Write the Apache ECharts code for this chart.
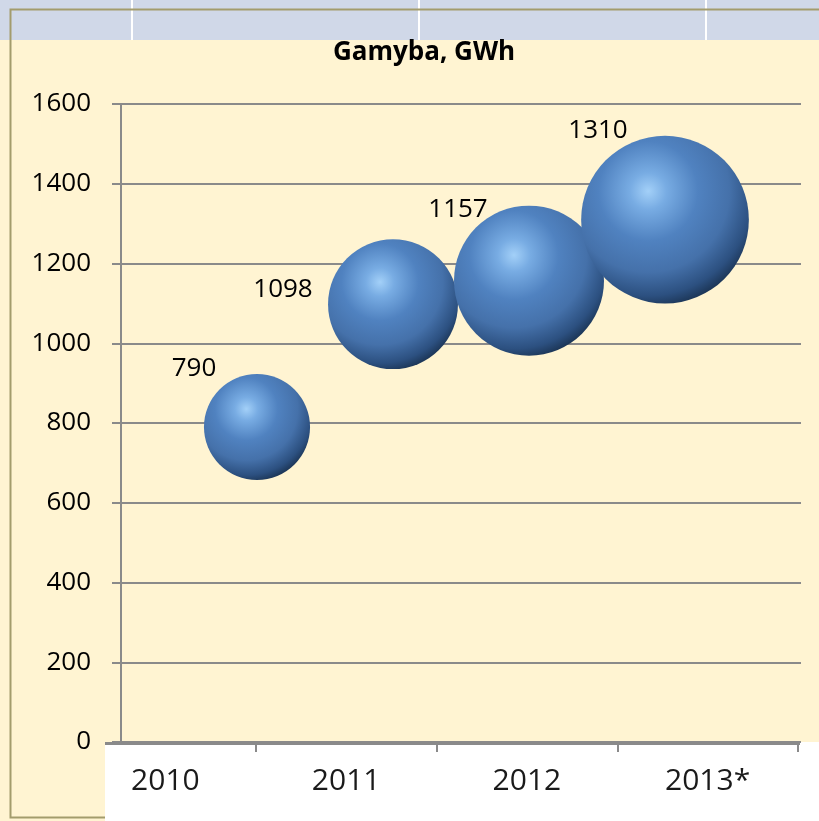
<!DOCTYPE html>
<html>
<head>
<meta charset="utf-8">
<script src="https://cdn.jsdelivr.net/npm/echarts@6/dist/echarts.min.js"></script>
<style>
  html, body { margin: 0; padding: 0; background: #fff4d2; }
  #main { width: 819px; height: 821px; }
</style>
</head>
<body>
<div id="main"></div>
<script>
var years = ['2010', '2011', '2012', '2013*'];
var xPos = [1, 2, 3, 4];                 // bubble x value
var production = [790, 1098, 1157, 1310]; // GWh
var bubbleSize = [2, 3, 4, 5];           // bubble size values
var yTicks = [0, 200, 400, 600, 800, 1000, 1200, 1400, 1600];

// label offsets relative to bubble centre (placed by hand in the original)
var labelOffsets = [[-63, -58], [-110, -15], [-71, -71], [-67, -89]];

var myChart = echarts.init(document.getElementById('main'));

var sphere = new echarts.graphic.RadialGradient(0.4, 0.33, 0.78, [
  { offset: 0, color: '#a3d0f8' },
  { offset: 0.14, color: '#78ace3' },
  { offset: 0.38, color: '#5082c0' },
  { offset: 0.62, color: '#4571aa' },
  { offset: 0.8, color: '#2c5080' },
  { offset: 1, color: '#0a1828' }
]);

var seriesData = [];
for (var i = 0; i < production.length; i++) {
  seriesData.push({
    value: [xPos[i], production[i], bubbleSize[i]],
    label: { offset: labelOffsets[i] }
  });
}

// year label sits in the middle of each band of the bottom axis
var yearTicks = [], yearMids = [];
for (var k = 0; k < years.length; k++) {
  yearTicks.push(k + 1);
  yearMids.push(k + 0.5);
}

var option = {
  animation: false,
  backgroundColor: '#fff4d2',
  title: {
    text: 'Gamyba, GWh',
    left: 419,
    top: 35,
    textAlign: 'center',
    textStyle: { fontFamily: 'Open Sans', fontWeight: 'bold', fontSize: 26, color: '#000' }
  },
  graphic: [
    // header band
    { type: 'rect', z: -10, shape: { x: 0, y: 0, width: 819, height: 40 }, style: { fill: '#d0d8e8' } },
    { type: 'rect', z: -9, shape: { x: 131, y: 0, width: 2, height: 40 }, style: { fill: '#ffffff' } },
    { type: 'rect', z: -9, shape: { x: 418, y: 0, width: 2, height: 40 }, style: { fill: '#ffffff' } },
    { type: 'rect', z: -9, shape: { x: 705, y: 0, width: 2, height: 40 }, style: { fill: '#ffffff' } },
    // frame
    { type: 'polyline', z: -8, shape: { points: [[819, 9.5], [10.5, 9.5], [10.5, 817.5], [105, 817.5]] },
      style: { stroke: '#a39c6c', lineWidth: 2, fill: null } },
    // white strip under the axis
    { type: 'rect', z: -7, shape: { x: 105, y: 742, width: 714, height: 79 }, style: { fill: '#ffffff' } },
    // x axis line
    { type: 'line', z: 10, shape: { x1: 105, y1: 743.5, x2: 800, y2: 743.5 }, style: { stroke: '#8a8a8a', lineWidth: 3 } }
  ],
  grid: [
    { left: 121, right: 18, top: 104, bottom: 79 },
    { left: 75, right: 21, top: 104, bottom: 79 }
  ],
  xAxis: [
    { type: 'value', gridIndex: 0, min: 0, max: 5, show: false },
    {
      type: 'value', gridIndex: 1, min: 0, max: years.length,
      axisLine: { show: false },
      axisTick: { show: true, length: 10, customValues: yearTicks, lineStyle: { color: '#8a8a8a', width: 2 } },
      axisLabel: { margin: 24, customValues: yearMids, fontFamily: 'Open Sans', fontSize: 30, color: '#1a1a1a',
        formatter: function (v) { return years[Math.floor(v)]; } },
      splitLine: { show: false }
    }
  ],
  yAxis: [
    {
      type: 'value', gridIndex: 0, min: 0, max: 1600, interval: 200,
      axisLine: { show: true, lineStyle: { color: '#8a8a8a', width: 2 } },
      axisTick: { show: true, length: 9, lineStyle: { color: '#8a8a8a', width: 2 } },
      axisLabel: { margin: 30, fontFamily: 'Open Sans', fontSize: 26, color: '#000',
        formatter: function (v) { return yTicks.indexOf(v) >= 0 ? String(v) : ''; } },
      splitLine: { show: true, lineStyle: { color: '#8a8a8a', width: 2 } }
    },
    { type: 'value', gridIndex: 1, show: false }
  ],
  series: [
    {
      type: 'scatter',
      xAxisIndex: 0,
      yAxisIndex: 0,
      data: seriesData,
      symbolSize: function (v) { return 75 * Math.sqrt(v[2]); },
      itemStyle: { color: sphere, opacity: 1 },
      label: {
        show: true,
        position: 'inside',
        formatter: function (p) { return p.value[1]; },
        fontFamily: 'Open Sans', fontSize: 26, color: '#000'
      },
      z: 5
    }
  ]
};
myChart.setOption(option);
</script>
</body>
</html>
